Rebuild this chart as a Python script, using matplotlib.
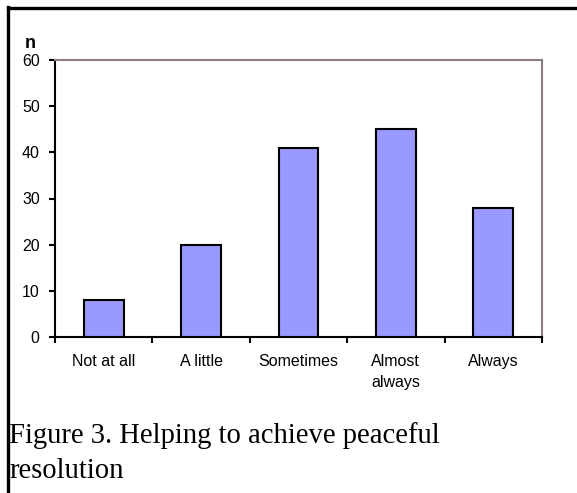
import matplotlib
matplotlib.use("Agg")
import matplotlib.pyplot as plt
from matplotlib.lines import Line2D

categories = ["Not at all", "A little", "Sometimes", "Almost\nalways", "Always"]
values = [8, 20, 41, 45, 28]
yticks = [0, 10, 20, 30, 40, 50, 60]
caption = "Figure 3. Helping to achieve peaceful\nresolution"

W, H = 577, 493
fig = plt.figure(figsize=(W / 100, H / 100), dpi=100)
fig.patch.set_facecolor("white")

# plot area in pixels
x0, x1, yt, yb = 55, 542, 60, 337
ax = fig.add_axes([x0 / W, 1 - yb / H, (x1 - x0) / W, (yb - yt) / H])

pos = list(range(len(categories)))
ax.bar(pos, values, width=0.41, color="#9999FF", edgecolor="black", linewidth=1.5, zorder=3)
ax.set_xlim(-0.5, len(categories) - 0.5)
ax.set_ylim(0, 60)
ax.set_yticks(yticks)
ax.set_yticklabels([str(v) for v in yticks], fontsize=11.5, family="Liberation Sans")
ax.set_xticks([p for p in pos])
ax.set_xticklabels(categories, fontsize=11.5, family="Liberation Sans", linespacing=1.55, va="top")
ax.tick_params(axis="x", length=0, pad=12)
ax.set_xticks([p - 0.5 for p in pos] + [len(pos) - 0.5], minor=True)
ax.tick_params(axis="x", which="minor", length=4, width=1.5, direction="out", color="black")
ax.tick_params(axis="y", length=4, width=1.5, direction="out", pad=7, color="black")

for s in ["left", "bottom"]:
    ax.spines[s].set_color("black")
    ax.spines[s].set_linewidth(1.5)
for s in ["top", "right"]:
    ax.spines[s].set_color("#8c7f7f")
    ax.spines[s].set_linewidth(1.5)

fig.text(30.5 / W, 1 - 48 / H, "n", fontsize=13, fontweight="bold", family="Liberation Sans", ha="center", va="baseline")

fig.text(9 / W, 1 - 478 / H, caption, fontsize=20.6, family="Liberation Serif", ha="left", va="baseline", linespacing=1.44)

# outer border lines (left and top)
fig.add_artist(Line2D([7.5 / W, 7.5 / W], [1 - 7 / H, 0], transform=fig.transFigure, color="black", linewidth=2.4))
fig.add_artist(Line2D([7.5 / W, 1], [1 - 8 / H, 1 - 8 / H], transform=fig.transFigure, color="black", linewidth=2.4))

fig.savefig("out.png", dpi=100)
